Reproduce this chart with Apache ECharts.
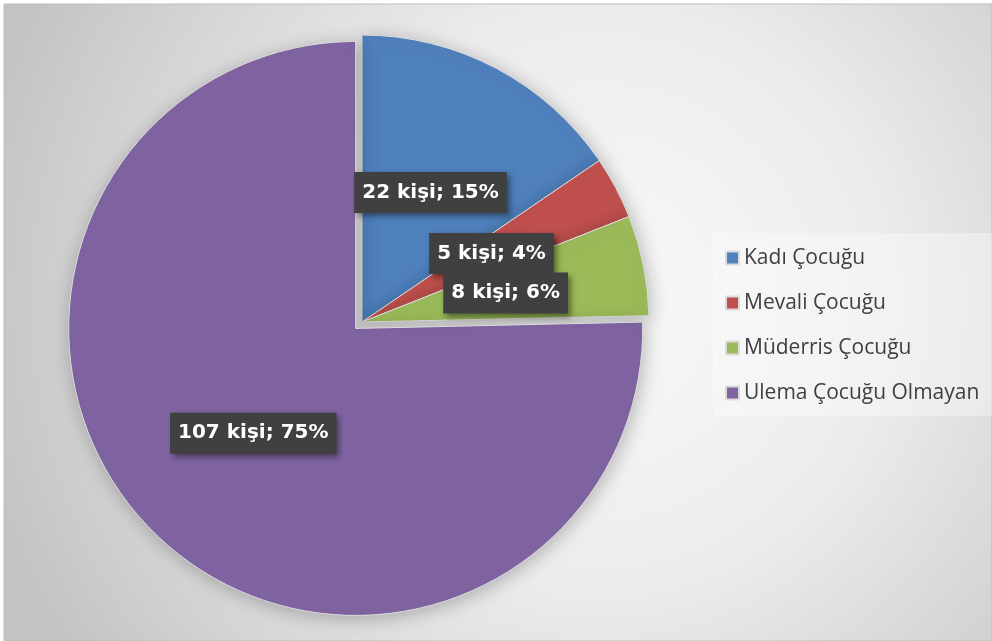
<!DOCTYPE html>
<html>
<head>
<meta charset="utf-8">
<script src="https://cdn.jsdelivr.net/npm/echarts@6/dist/echarts.min.js"></script>
<style>
html,body{margin:0;padding:0;background:#fff;}
#c{width:992px;height:641px;}
</style>
</head>
<body>
<div id="c"></div>
<script>
var categories = ['Kadı Çocuğu', 'Mevali Çocuğu', 'Müderris Çocuğu', 'Ulema Çocuğu Olmayan'];
var values = [22, 5, 8, 107];
var colors = ['#4F81BD', '#C0504D', '#9BBB59', '#8064A2'];
var exploded = [false, false, false, true];

var chart = echarts.init(document.getElementById('c'));
var labelFont = '"DejaVu Sans", sans-serif';
var legendFont = '"Open Sans", sans-serif';

var data = categories.map(function (n, i) {
  return { name: n, value: values[i], selected: exploded[i], itemStyle: { color: colors[i] } };
});

chart.setOption({
  animation: false,
  backgroundColor: '#ffffff',
  graphic: [{
    type: 'rect',
    z: -10,
    silent: true,
    shape: { x: 4, y: 4, width: 988, height: 637 },
    style: {
      fill: {
        type: 'radial', x: 600, y: 300, r: 640, global: true,
        colorStops: [
          { offset: 0, color: '#f9f9f9' },
          { offset: 0.45, color: '#ececec' },
          { offset: 1, color: '#c3c3c3' }
        ]
      },
      stroke: '#bdbdbd',
      lineWidth: 1
    }
  }],
  legend: {
    orient: 'vertical',
    left: 713,
    top: 233,
    padding: [13, 13, 11, 12],
    itemGap: 21,
    itemWidth: 13,
    itemHeight: 13,
    icon: 'rect',
    backgroundColor: 'rgba(255,255,255,0.35)',
    textStyle: { fontSize: 21, lineHeight: 24, color: '#404040', fontFamily: legendFont },
    data: categories
  },
  series: [{
    type: 'pie',
    center: [362, 322],
    radius: 287,
    startAngle: 90,
    clockwise: true,
    selectedMode: 'multiple',
    selectedOffset: 9,
    percentPrecision: 0,
    avoidLabelOverlap: false,
    labelLayout: { hideOverlap: false },
    itemStyle: {
      borderColor: '#dcdcdc',
      borderWidth: 1,
      shadowBlur: 18,
      shadowColor: 'rgba(0,0,0,0.25)',
      shadowOffsetX: 2,
      shadowOffsetY: 3
    },
    select: { itemStyle: { borderColor: '#dcdcdc', borderWidth: 1 } },
    emphasis: { disabled: true },
    label: {
      show: true,
      position: 'inside',
      formatter: '{c} kişi; {d}%',
      color: '#ffffff',
      fontWeight: 'bold',
      fontSize: 20,
      lineHeight: 25,
      fontFamily: labelFont,
      backgroundColor: '#404040',
      padding: [8, 8, 8, 8],
      shadowColor: 'rgba(0,0,0,0.45)',
      shadowBlur: 6,
      shadowOffsetX: 3,
      shadowOffsetY: 3
    },
    labelLine: { show: false },
    data: data
  }]
});
</script>
</body>
</html>
